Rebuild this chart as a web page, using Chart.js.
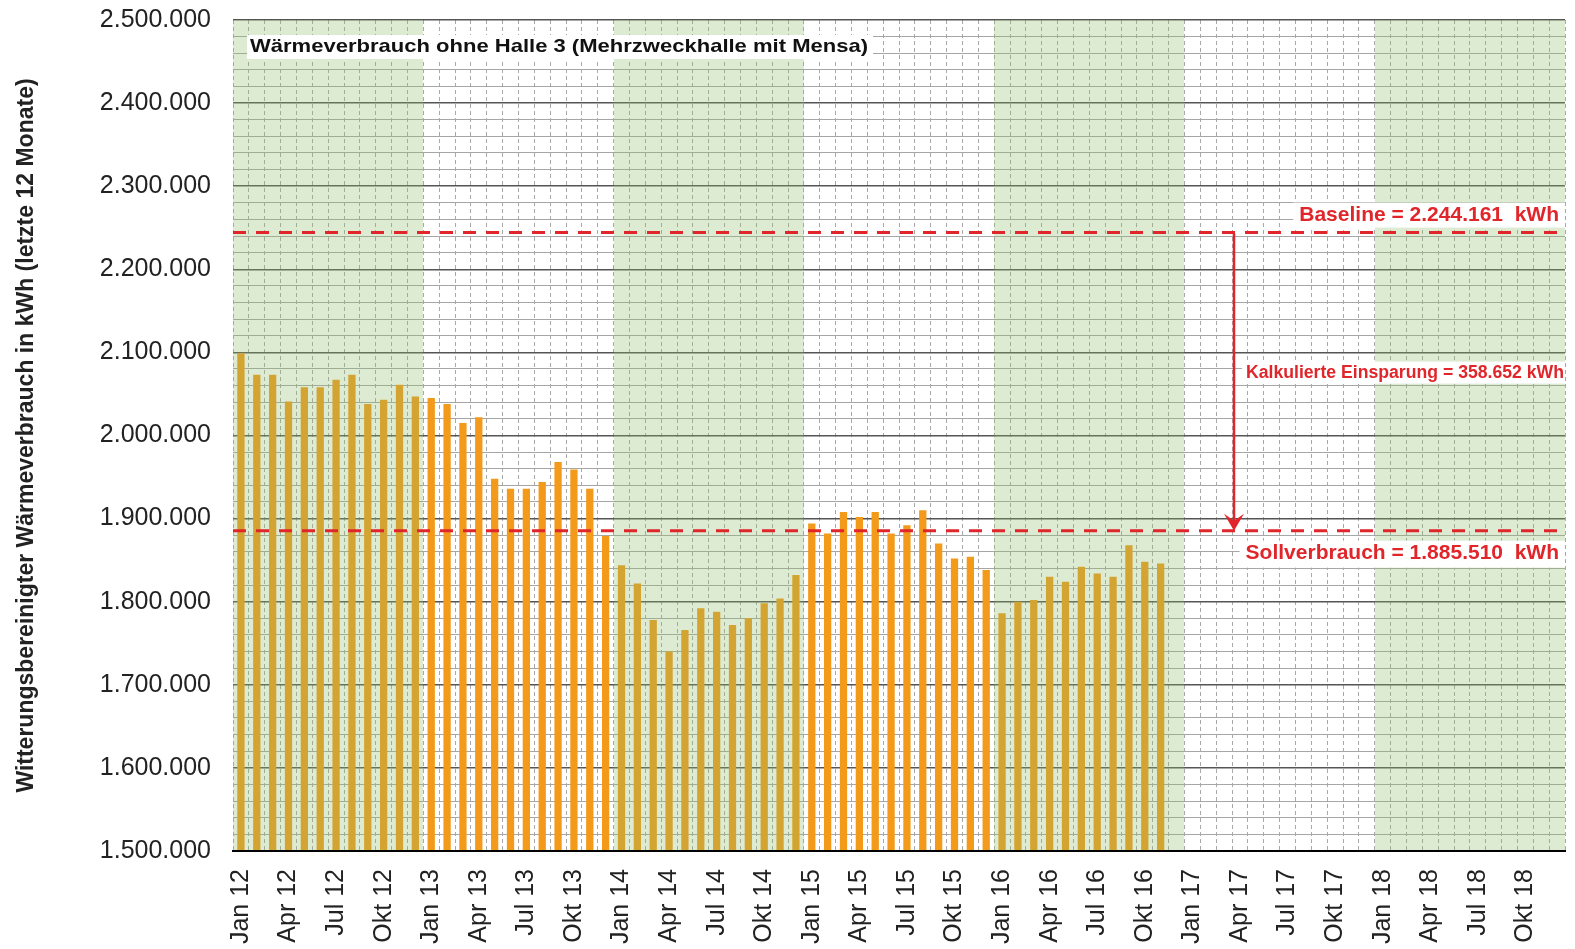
<!DOCTYPE html>
<html><head><meta charset="utf-8">
<script src="https://cdn.jsdelivr.net/npm/chart.js@4.4.1/dist/chart.umd.min.js"></script>
<style>html,body{margin:0;padding:0;background:#fff;} #wrap{width:1575px;height:949px;position:relative;}</style>
</head><body><div id="wrap"><canvas id="c"></canvas></div>
<script>
// ---- data ----
const monthNames = ['Jan','Feb','Mrz','Apr','Mai','Jun','Jul','Aug','Sep','Okt','Nov','Dez'];
const years = ['12','13','14','15','16','17','18'];
const shadedYears = ['12','14','16','18'];
const tickMonths = ['Jan','Apr','Jul','Okt'];
const consumption = [
  2099000, 2073000, 2073000, 2041000, 2058000, 2058000, 2067000, 2073000, 2038000, 2043000, 2061000, 2047000,
  2045000, 2038000, 2015000, 2022000, 1948000, 1936000, 1936000, 1944000, 1968000, 1959000, 1936000, 1879000,
  1844000, 1822000, 1778000, 1740000, 1766000, 1792000, 1788000, 1772000, 1780000, 1798000, 1804000, 1832000,
  1894000, 1882000, 1908000, 1902000, 1908000, 1882000, 1892000, 1910000, 1870000, 1852000, 1854000, 1838000,
  1786000, 1800000, 1802000, 1830000, 1824000, 1842000, 1834000, 1830000, 1868000, 1848000, 1846000
];
const baselineValue = 2244161;
const targetValue = 1885510;
const savingsValue = 358652;
const yMin = 1500000, yMax = 2500000, yMajor = 100000, yMinor = 20000;
const chartTitle = 'Wärmeverbrauch ohne Halle 3 (Mehrzweckhalle mit Mensa)';
const yTitle = 'Witterungsbereinigter Wärmeverbrauch in kWh (letzte 12 Monate)';

const categories = [];
years.forEach(y => monthNames.forEach(m => categories.push(m + ' ' + y)));

function fmt(v){ return String(Math.round(v)).replace(/\B(?=(\d{3})+(?!\d))/g,'.'); }

const RED = '#E0262B';
const FONT = "'Liberation Sans', Arial, sans-serif";

function drawLabel(ctx, text, font, rightX, cy, color, targetW, padL, padR, boxTop, boxBot){
  ctx.font = font;
  const w = ctx.measureText(text).width;
  const tw = targetW || w;
  const sx = tw / w;
  ctx.fillStyle = '#fff';
  ctx.fillRect(rightX - tw - padL, cy - boxTop, tw + padL + padR, boxTop + boxBot);
  ctx.save();
  ctx.translate(rightX - tw, cy);
  ctx.scale(sx, 1);
  ctx.fillStyle = color;
  ctx.textAlign = 'left';
  ctx.textBaseline = 'middle';
  ctx.fillText(text, 0, 0);
  ctx.restore();
}

const overlayPlugin = {
  id: 'overlay',
  afterDatasetsDraw(chart){
    const {ctx, chartArea: a, scales: {x, y}} = chart;
    const slot = x.getPixelForValue(1) - x.getPixelForValue(0);
    ctx.save();
    // shaded years (semi-transparent, over the bars)
    ctx.fillStyle = 'rgba(140,190,105,0.30)';
    shadedYears.forEach(yr => {
      const idx = categories.map((c,i)=>c.endsWith(' '+yr)?i:-1).filter(i=>i>=0);
      const x0 = Math.round(x.getPixelForValue(idx[0]) - slot/2);
      const x1 = Math.round(x.getPixelForValue(idx[idx.length-1]) + slot/2);
      ctx.fillRect(x0, a.top, Math.min(x1, a.right) - x0, a.bottom - a.top);
    });
    // bottom axis line
    ctx.strokeStyle = '#000'; ctx.lineWidth = 2;
    ctx.beginPath(); ctx.moveTo(a.left, a.bottom); ctx.lineTo(a.right, a.bottom); ctx.stroke();

    // dashed reference lines
    const yB = y.getPixelForValue(baselineValue);
    const yS = y.getPixelForValue(targetValue);
    ctx.strokeStyle = RED; ctx.lineWidth = 3; ctx.setLineDash([13,10]);
    [yB, yS].forEach(yy => { ctx.beginPath(); ctx.moveTo(a.left, yy); ctx.lineTo(a.right, yy); ctx.stroke(); });
    ctx.setLineDash([]);

    // arrow
    const xa = x.getPixelForValue(63) - slot/2 + 2;
    ctx.strokeStyle = RED; ctx.lineWidth = 2.5;
    ctx.beginPath(); ctx.moveTo(xa, yB + 1); ctx.lineTo(xa, yS - 6); ctx.stroke();
    ctx.fillStyle = RED;
    ctx.beginPath();
    ctx.moveTo(xa, yS);
    ctx.lineTo(xa - 10, yS - 17);
    ctx.lineTo(xa, yS - 10);
    ctx.lineTo(xa + 10, yS - 17);
    ctx.closePath(); ctx.fill();

    // labels
    drawLabel(ctx, 'Baseline = ' + fmt(baselineValue) + '  kWh', 'bold 21px ' + FONT, a.right - 6, yB - 17, RED, 0, 6, 6, 13, 12);
    drawLabel(ctx, 'Kalkulierte Einsparung = ' + fmt(savingsValue) + ' kWh', 'bold 18px ' + FONT, a.right - 1, (yB + yS)/2 - 9, RED, 318, 4, 1, 11, 11);
    drawLabel(ctx, 'Sollverbrauch = ' + fmt(targetValue) + '  kWh', 'bold 21px ' + FONT, a.right - 6, yS + 23, RED, 0, 6, 6, 13, 14);

    // chart title box
    ctx.font = 'bold 19px ' + FONT;
    const tw = ctx.measureText(chartTitle).width;
    const sx = 618 / tw;
    ctx.fillStyle = '#fff';
    ctx.fillRect(a.left + 14, a.top + 15, 618 + 8, 24);
    ctx.save();
    ctx.translate(a.left + 17, a.top + 27);
    ctx.scale(sx, 1);
    ctx.fillStyle = '#111'; ctx.textAlign = 'left'; ctx.textBaseline = 'middle';
    ctx.fillText(chartTitle, 0, 0);
    ctx.restore();
    ctx.restore();
  }
};

new Chart(document.getElementById('c'), {
  type: 'bar',
  data: {
    labels: categories,
    datasets: [{
      data: consumption,
      backgroundColor: '#F39A1A',
      borderWidth: 0,
      barPercentage: 0.46,
      categoryPercentage: 1.0
    }]
  },
  options: {
    responsive: true,
    maintainAspectRatio: false,
    animation: false,
    devicePixelRatio: 1,
    layout: { padding: { left: 13, right: 10, top: 20, bottom: 0 } },
    plugins: { legend: { display: false }, tooltip: { enabled: false }, title: { display: false } },
    scales: {
      x: {
        offset: true,
        grid: { offset: true, color: '#a8a8a8', lineWidth: 1, drawTicks: false },
        border: { display: true, color: '#000', width: 2, dash: [4,3] },
        ticks: {
          autoSkip: false, maxRotation: 90, minRotation: 90, padding: 18,
          color: '#222', font: { family: FONT, size: 25 },
          callback: (v, i) => tickMonths.includes(categories[i].split(' ')[0]) ? categories[i] : ''
        },
        afterFit: s => { s.height = 98; s.paddingLeft = 0; s.paddingRight = 0; }
      },
      y: {
        min: yMin, max: yMax,
        grid: {
          drawTicks: false,
          color: c => (c.tick && Math.round(c.tick.value) % yMajor === 0) ? '#555' : '#a6a6a6',
          lineWidth: c => (c.tick && Math.round(c.tick.value) % yMajor === 0) ? 1.6 : 1.1
        },
        border: { display: false },
        ticks: {
          stepSize: yMinor, autoSkip: false, maxTicksLimit: 200, padding: 22,
          color: '#222', font: { family: FONT, size: 25 },
          callback: v => (Math.round(v) % yMajor === 0) ? fmt(v) : ''
        },
        title: {
          display: true, text: yTitle, color: '#222',
          font: { family: FONT, size: 23, weight: 'bold' }, padding: { top: 0, bottom: 0 }
        },
        afterFit: s => { s.width = 220; s.paddingTop = 0; s.paddingBottom = 0; }
      }
    }
  },
  plugins: [overlayPlugin]
});
</script></body></html>
